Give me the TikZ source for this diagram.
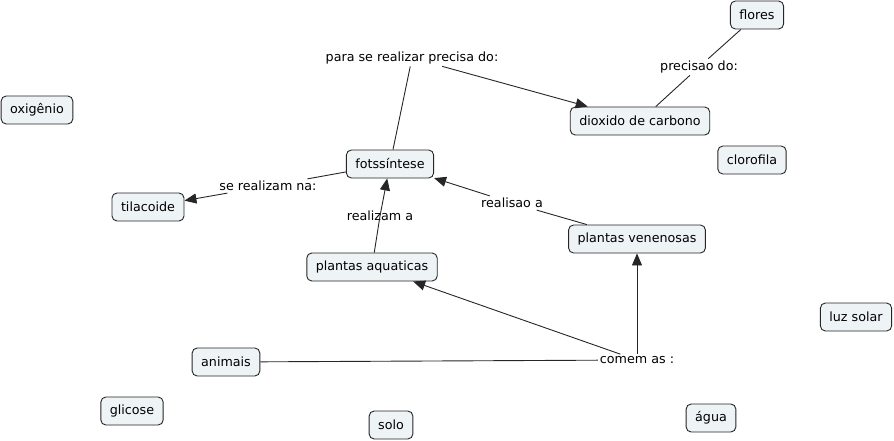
\documentclass[tikz,border=0pt]{standalone}
\usepackage{fontspec}
\setmainfont{DejaVu Sans}
\usetikzlibrary{arrows.meta}
\definecolor{cfill}{HTML}{EEF3F5}
\tikzset{
  concept/.style={draw=black!85, fill=cfill, rounded corners=5pt, line width=0.9pt,
    inner xsep=9pt, inner ysep=0pt, minimum height=28pt, font=\fontsize{12.7}{15}\selectfont},
  linklabel/.style={inner sep=2pt, font=\fontsize{12.7}{15}\selectfont},
  conn/.style={draw=black!85, line width=0.9pt},
  arr/.style={conn, -{Triangle[length=12pt,width=10pt]}}
}
\begin{document}
\begin{tikzpicture}[x=1pt,y=-1pt]
\useasboundingbox (0,0) rectangle (894,441);
% concepts
\node[concept] (flores) at (757,15) {flores};
\node[concept] (oxi) at (37,110) {oxigênio};
\node[concept] (foto) at (390,164) {fotssíntese};
\node[concept] (dioxido) at (640,121) {dioxido de carbono};
\node[concept] (clorofila) at (752,160) {clorofila};
\node[concept] (tilacoide) at (148,207) {tilacoide};
\node[concept] (venenosas) at (637,239) {plantas venenosas};
\node[concept] (aquaticas) at (372,267) {plantas aquaticas};
\node[concept] (luz) at (856,317) {luz solar};
\node[concept] (animais) at (226,362) {animais};
\node[concept] (glicose) at (132,411) {glicose};
\node[concept] (solo) at (391,425) {solo};
\node[concept] (agua) at (711,418) {água};
% link labels
\node[linklabel] (l1) at (412,58) {para se realizar precisa do:};
\node[linklabel] (l2) at (699,67) {precisao do:};
\node[linklabel] (l3) at (268,186) {se realizam na:};
\node[linklabel] (l4) at (380,216) {realizam a};
\node[linklabel] (l5) at (512,203) {realisao a};
\node[linklabel] (l6) at (637,360) {comem as :};
% connectors
\draw[conn] (foto) -- (l1);
\draw[arr] (l1) -- (dioxido);
\draw[conn] (flores) -- (l2);
\draw[conn] (l2) -- (dioxido);
\draw[conn] (foto) -- (l3);
\draw[arr] (l3) -- (tilacoide);
\draw[conn] (aquaticas) -- (l4.center);
\draw[arr] (l4.center) -- (foto);
\draw[conn] (venenosas) -- (l5);
\draw[arr] (l5) -- (foto);
\draw[conn] (animais) -- (l6);
\draw[arr] (l6) -- (aquaticas);
\draw[arr] (l6) -- (venenosas);
\end{tikzpicture}
\end{document}
